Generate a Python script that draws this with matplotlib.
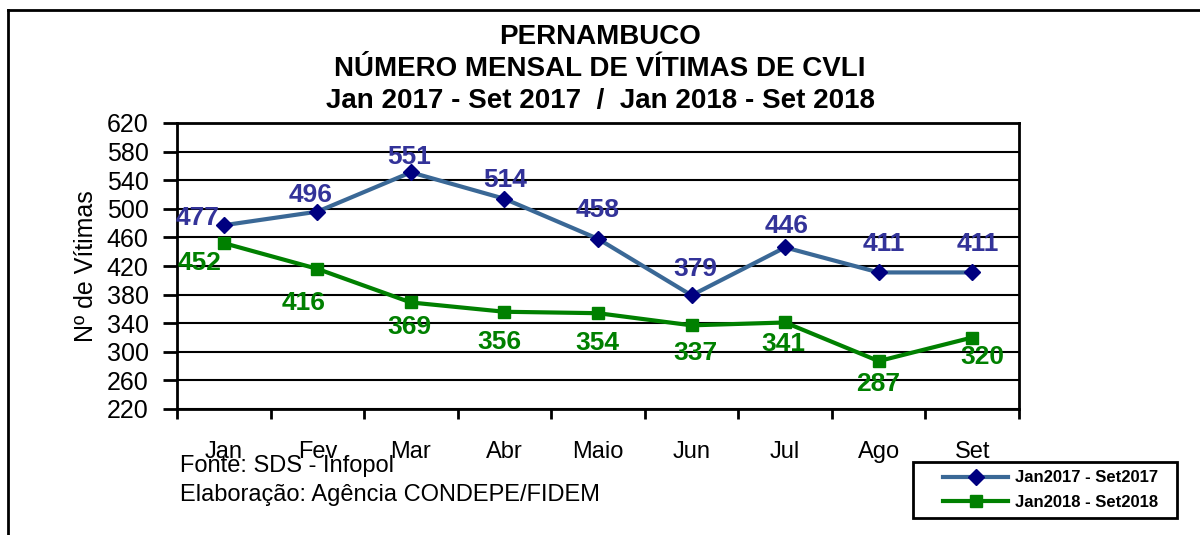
import matplotlib.pyplot as plt
from matplotlib.lines import Line2D
from matplotlib.patches import Rectangle
from matplotlib.ticker import FixedLocator

plt.rcParams['font.family'] = ['Liberation Sans', 'DejaVu Sans']

months = ['Jan', 'Fev', 'Mar', 'Abr', 'Maio', 'Jun', 'Jul', 'Ago', 'Set']
vitimas_2017 = [477, 496, 551, 514, 458, 379, 446, 411, 411]
vitimas_2018 = [452, 416, 369, 356, 354, 337, 341, 287, 320]
y_ticks = [220, 260, 300, 340, 380, 420, 460, 500, 540, 580, 620]

# label offsets in pixels (label centre relative to the point)
off_2017 = [(-26, 7), (-7, 17), (-2, 15), (1, 19), (0, 29), (4, 26), (2, 21), (5, 28), (6, 28)]
off_2018 = [(-24, -20), (-14, -34), (-1, -25), (-5, -30), (-1, -30), (4, -28), (-2, -22), (-1, -23), (10, -20)]

line_2017 = '#3a6896'
mark_2017 = '#000080'
text_2017 = '#333399'
green = '#008000'

fig = plt.figure(figsize=(12, 5.35), dpi=100)
ax = fig.add_axes([177 / 1200, 1 - 409 / 535, (1019 - 177) / 1200, (409 - 123) / 535])

x = range(len(months))
ax.plot(x, vitimas_2017, color=line_2017, lw=3, marker='D', ms=8,
        mfc=mark_2017, mec=mark_2017, label='Jan2017 - Set2017', zorder=4)
ax.plot(x, vitimas_2018, color=green, lw=3, marker='s', ms=8,
        mfc=green, mec=green, label='Jan2018 - Set2018', zorder=4)

for i, v in enumerate(vitimas_2017):
    ax.annotate(str(v), (i, v), xytext=off_2017[i], textcoords='offset pixels',
                ha='center', va='center', fontsize=19, fontweight='bold', color=text_2017, zorder=5)
for i, v in enumerate(vitimas_2018):
    ax.annotate(str(v), (i, v), xytext=off_2018[i], textcoords='offset pixels',
                ha='center', va='center', fontsize=19, fontweight='bold', color=green, zorder=5)

ax.set_xlim(-0.5, len(months) - 0.5)
ax.set_ylim(y_ticks[0], y_ticks[-1])
ax.set_yticks(y_ticks)
ax.grid(axis='y', color='black', lw=1.5)
ax.set_axisbelow(True)
for s in ax.spines.values():
    s.set_linewidth(2)

ax.set_xticks(list(x))
ax.set_xticklabels(months, fontsize=17)
ax.xaxis.set_minor_locator(FixedLocator([i + 0.5 for i in range(-1, len(months))]))
ax.tick_params(axis='x', which='major', length=0, pad=23)
ax.tick_params(axis='x', which='minor', length=7, width=2, direction='out')
ax.tick_params(axis='y', length=10, width=2, direction='out', labelsize=18, pad=10.5)
ax.set_ylabel('Nº de Vítimas', fontsize=18, labelpad=6)

title_lines = ['PERNAMBUCO', 'NÚMERO MENSAL DE VÍTIMAS DE CVLI',
               'Jan 2017 - Set 2017  /  Jan 2018 - Set 2018']
for t, yp in zip(title_lines, [37, 69, 101]):
    fig.text(0.5, 1 - yp / 535, t, ha='center', va='center', fontsize=20, fontweight='bold')

fig.text(180 / 1200, 1 - 466 / 535, 'Fonte: SDS - Infopol', ha='left', va='center', fontsize=17)
fig.text(180 / 1200, 1 - 495 / 535, 'Elaboração: Agência CONDEPE/FIDEM', ha='left', va='center', fontsize=17)

# legend box drawn by hand, entries placed inside it
fig.add_artist(Rectangle((913 / 1200, 1 - 518 / 535), (1177 - 913) / 1200, 56 / 535,
                         transform=fig.transFigure, fill=False, ec='black', lw=2))
leg = fig.legend(loc='center left', bbox_to_anchor=(935 / 1200, 1 - 490 / 535), frameon=False,
                 prop={'weight': 'bold', 'size': 12}, handlelength=3.9,
                 borderpad=0.0, labelspacing=0.55, handletextpad=0.4)

# outer chart border
fig.add_artist(Line2D([8 / 1200, 1], [1 - 10 / 535, 1 - 10 / 535], color='black', lw=2))
fig.add_artist(Line2D([8 / 1200, 8 / 1200], [0, 1 - 10 / 535], color='black', lw=2))

fig.savefig('out.png', dpi=100)
